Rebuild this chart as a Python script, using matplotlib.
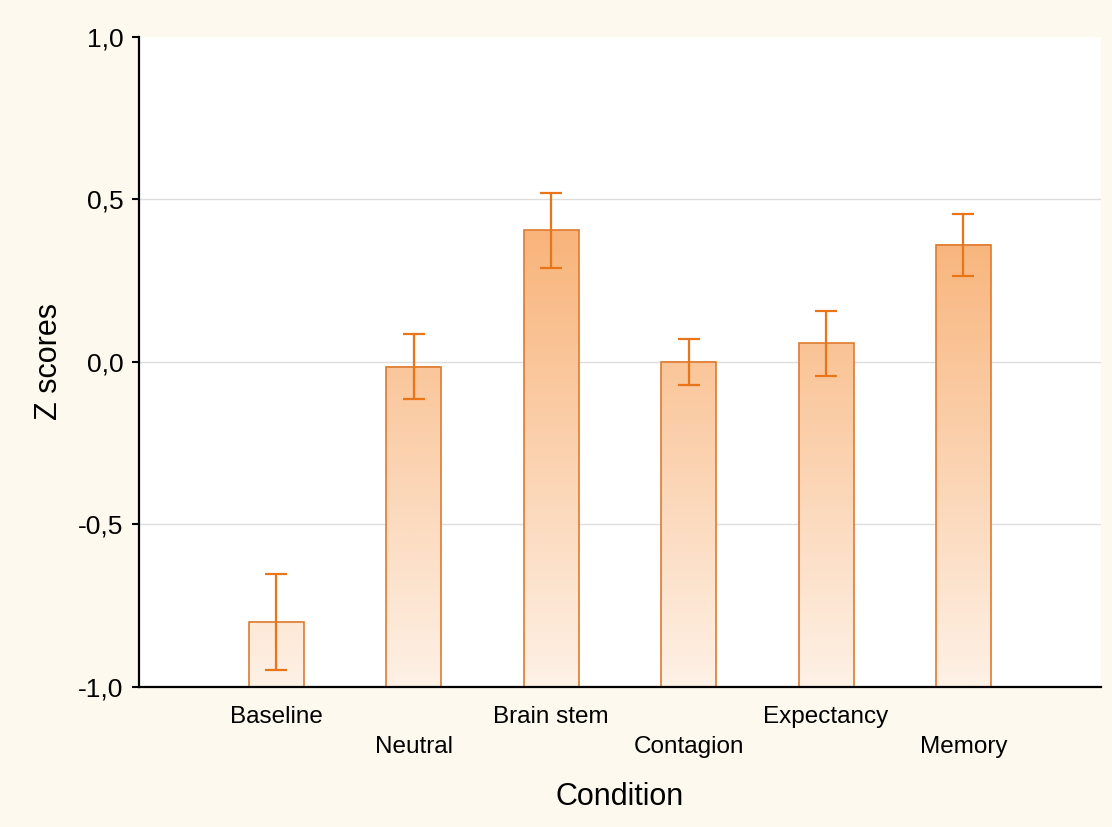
import numpy as np
import matplotlib
matplotlib.use("Agg")
import matplotlib.pyplot as plt
from matplotlib.colors import LinearSegmentedColormap
from matplotlib.patches import Rectangle

# ----------------------------
# Data
# ----------------------------
conditions = ["Baseline", "Neutral", "Brain stem", "Contagion", "Expectancy", "Memory"]
means = [-0.80, -0.015, 0.405, 0.0, 0.057, 0.36]
errors = [0.147, 0.10, 0.115, 0.071, 0.099, 0.095]
y_ticks = [-1.0, -0.5, 0.0, 0.5, 1.0]
y_tick_labels = ["-1,0", "-0,5", "0,0", "0,5", "1,0"]

plt.rcParams['font.family'] = ['Liberation Sans', 'DejaVu Sans']

fig = plt.figure(figsize=(11.12, 8.27), dpi=100, facecolor='#FEF9EE')
ax = fig.add_axes([0.125, 0.1693, 0.865, 0.786])
ax.set_facecolor('white')

# gradient fill: light at the bottom, orange toward the top
grad_cmap = LinearSegmentedColormap.from_list("bar_grad", ["#FEF1E6", "#F69A4D"])
bar_w = 0.4
x = np.arange(len(conditions))
for xi, m in zip(x, means):
    ys = np.linspace(-1, m, 200).reshape(-1, 1)
    ax.imshow(ys, extent=[xi - bar_w / 2, xi + bar_w / 2, -1, m], origin='lower',
              cmap=grad_cmap, vmin=-1, vmax=1, aspect='auto', zorder=2)
    ax.add_patch(Rectangle((xi - bar_w / 2, -1), bar_w, m + 1, fill=False,
                           edgecolor='#DE7B30', lw=1.2, zorder=3))

ax.errorbar(x, means, yerr=errors, fmt='none', ecolor='#EA7418', elinewidth=1.6,
            capsize=8, capthick=1.6, zorder=4)

ax.set_xlim(-1, 6)
ax.set_ylim(-1, 1)

ax.set_yticks(y_ticks)
ax.set_yticklabels(y_tick_labels, fontsize=19)
ax.tick_params(axis='y', direction='out', length=5, width=1.5, pad=6)

ax.set_xticks(x)
ax.set_xticklabels([c if i % 2 == 0 else "\n" + c for i, c in enumerate(conditions)], fontsize=17.5)
for lbl in ax.get_xticklabels():
    lbl.set_linespacing(1.45)
ax.tick_params(axis='x', length=0, pad=14)

ax.grid(axis='y', color='#DDDDDD', lw=1, zorder=0)
ax.get_ygridlines()[-1].set_visible(False)
ax.set_axisbelow(True)

for s in ['top', 'right']:
    ax.spines[s].set_visible(False)
for s in ['left', 'bottom']:
    ax.spines[s].set_linewidth(1.6)
    ax.spines[s].set_zorder(5)

ax.set_xlabel("Condition", fontsize=22, labelpad=17)
ax.set_ylabel("Z scores", fontsize=22, labelpad=10)

fig.savefig("out.png", dpi=100, facecolor=fig.get_facecolor())
